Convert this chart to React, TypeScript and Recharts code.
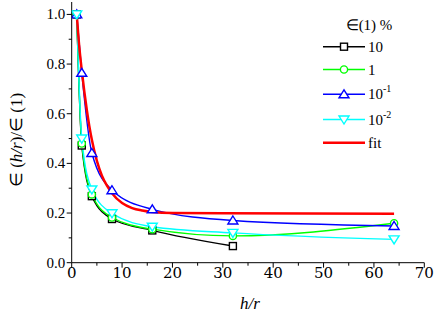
import React from 'react';
import { LineChart, Line, XAxis, YAxis, Legend } from 'recharts';

const hr = [1, 2, 4, 8, 16, 32, 64];
const s10 = [1.0, 0.472, 0.268, 0.176, 0.13, 0.067, null];
const s1 = [1.0, 0.48, 0.275, 0.182, 0.135, 0.108, 0.159];
const s01 = [1.0, 0.765, 0.442, 0.292, 0.215, 0.17, 0.148];
const s001 = [1.0, 0.5, 0.295, 0.199, 0.145, 0.12, 0.094];
const fitX = [1, 1.5, 2, 2.5, 3, 3.5, 4, 5, 6, 7, 8, 10, 12, 14, 16, 20, 30, 64];
const fitY = [1.0, 0.87, 0.775, 0.69, 0.615, 0.55, 0.495, 0.41, 0.35, 0.31, 0.28, 0.24, 0.22, 0.21, 0.204, 0.2, 0.199, 0.197];

const xTicks = [0, 5, 10, 15, 20, 25, 30, 35, 40, 45, 50, 55, 60, 65, 70];
const yTicks = [0, 0.1, 0.2, 0.3, 0.4, 0.5, 0.6, 0.7, 0.8, 0.9, 1.0];
const legendTitle = '\u2208(1) %';

const FONT = "'Liberation Serif'";
const FONT2 = "'DejaVu Serif'";

const mk = (xs: number[], ys: (number | null)[]) =>
  xs.map((x, i) => ({ x, y: ys[i] })).filter((d) => d.y !== null);

const d10 = mk(hr, s10);
const d1 = mk(hr, s1);
const d01 = mk(hr, s01);
const d001 = mk(hr, s001);
const dfit = mk(fitX, fitY);

const isMajorX = (v: number) => Math.round(v) % 10 === 0;
const isMajorY = (v: number) => Math.round(v * 10) % 2 === 0;

const txt = { fontFamily: FONT, fill: '#000' } as const;
const txt2 = { fontFamily: FONT2, fill: '#000' } as const;

const BottomTick = (p: any) => {
  const { x, y, payload } = p;
  const major = isMajorX(payload.value);
  return (
    <g>
      <line x1={x} x2={x} y1={y} y2={y + (major ? 5 : 3)} stroke="#000" strokeWidth={1} />
      {major && (
        <text x={x} y={y + 15.5} textAnchor="middle" fontSize={15} style={txt2}>
          {payload.value}
        </text>
      )}
    </g>
  );
};

const TopTick = (p: any) => {
  const { x, y, payload } = p;
  const major = isMajorX(payload.value);
  return <line x1={x} x2={x} y1={y} y2={y + (major ? 5 : 3)} stroke="#000" strokeWidth={1} />;
};

const LeftTick = (p: any) => {
  const { x, y, payload } = p;
  const major = isMajorY(payload.value);
  return (
    <g>
      <line x1={x} x2={x - (major ? 5 : 3)} y1={y} y2={y} stroke="#000" strokeWidth={1} />
      {major && (
        <text x={x - 6.5} y={y + 5} textAnchor="end" fontSize={15} style={txt}>
          {Number(payload.value).toFixed(1)}
        </text>
      )}
    </g>
  );
};

const RightTick = (p: any) => {
  const { x, y, payload } = p;
  const major = isMajorY(payload.value);
  return <line x1={x} x2={x - (major ? 5 : 3)} y1={y} y2={y} stroke="#000" strokeWidth={1} />;
};

type Shape = 'square' | 'circle' | 'up' | 'down';

const Marker = ({ cx, cy, shape, color }: { cx: number; cy: number; shape: Shape; color: string }) => {
  const sw = 1.4;
  if (shape === 'square')
    return <rect x={cx - 3.5} y={cy - 3.5} width={7} height={7} fill="#fff" stroke={color} strokeWidth={sw} />;
  if (shape === 'circle') return <circle cx={cx} cy={cy} r={3.6} fill="#fff" stroke={color} strokeWidth={sw} />;
  if (shape === 'up')
    return (
      <polygon
        points={`${cx},${cy - 4.5} ${cx - 5},${cy + 3.5} ${cx + 5},${cy + 3.5}`}
        fill="#fff"
        stroke={color}
        strokeWidth={sw}
      />
    );
  return (
    <polygon
      points={`${cx - 5},${cy - 3.5} ${cx + 5},${cy - 3.5} ${cx},${cy + 4.5}`}
      fill="#fff"
      stroke={color}
      strokeWidth={sw}
    />
  );
};

const makeDot = (shape: Shape, color: string) => (p: any) => {
  const { cx, cy, index } = p;
  if (cx == null || cy == null) return <g key={`n-${index}`} />;
  return (
    <g key={`d-${shape}-${index}`}>
      <Marker cx={cx} cy={cy} shape={shape} color={color} />
    </g>
  );
};

const series = [
  { name: '10', sup: '', color: '#000000', shape: 'square' as Shape },
  { name: '1', sup: '', color: '#00ff00', shape: 'circle' as Shape },
  { name: '10', sup: '-1', color: '#0000ff', shape: 'up' as Shape },
  { name: '10', sup: '-2', color: '#00ffff', shape: 'down' as Shape },
];

const rowY = [36.7, 59.5, 84.3, 109.5, 132.7];

const LegendBox = () => (
  <svg width={130} height={150} style={{ display: 'block' }}>
    <text x={69} y={20} textAnchor="middle" fontSize={15} style={txt}>
      {legendTitle}
    </text>
    {series.map((s, i) => (
      <g key={i}>
        <line x1={23} x2={65} y1={rowY[i]} y2={rowY[i]} stroke={s.color} strokeWidth={1.5} />
        <Marker cx={44} cy={rowY[i]} shape={s.shape} color={s.color} />
        <text x={68} y={rowY[i] + 5} fontSize={15} style={txt}>
          {s.name}
          {s.sup && (
            <tspan fontSize={10} dy={-7}>
              {s.sup}
            </tspan>
          )}
        </text>
      </g>
    ))}
    <line x1={23} x2={65} y1={rowY[4]} y2={rowY[4]} stroke="#ff0000" strokeWidth={2.5} />
    <text x={68} y={rowY[4] + 5} fontSize={15} style={txt}>
      fit
    </text>
  </svg>
);

const XLabel = () => (
  <text x={250} y={309} textAnchor="middle" fontSize={17} fontStyle="italic" style={txt}>
    h/r
  </text>
);

const YLabel = () => (
  <text x={22} y={140} transform="rotate(-90 22 140)" textAnchor="middle" fontSize={17} style={txt}>
    {'\u2208 ('}
    <tspan fontStyle="italic">h/r</tspan>
    {')/\u2208 (1)'}
  </text>
);

export default function App() {
  return (
    <div style={{ position: 'absolute', left: 0, top: 0, width: 436, height: 316, background: '#fff' }}>
      <LineChart width={436} height={316} margin={{ top: 2, right: 11.7, bottom: 0, left: 0 }}>
        <XAxis
          xAxisId="bottom"
          dataKey="x"
          type="number"
          domain={[0, 70]}
          ticks={xTicks}
          interval={0}
          allowDataOverflow
          height={53.3}
          tickSize={0}
          tickMargin={0}
          tick={BottomTick}
          axisLine={{ stroke: '#000', strokeWidth: 1 }}
          label={XLabel}
        />
        <XAxis
          xAxisId="top"
          orientation="top"
          dataKey="x"
          type="number"
          domain={[0, 70]}
          ticks={xTicks}
          interval={0}
          allowDataOverflow
          height={0}
          tickSize={0}
          tickMargin={0}
          tick={TopTick}
          axisLine={{ stroke: '#000', strokeWidth: 1 }}
        />
        <YAxis
          yAxisId="left"
          type="number"
          domain={[0, 1.05]}
          ticks={yTicks}
          interval={0}
          allowDataOverflow
          width={71.7}
          tickSize={0}
          tickMargin={0}
          tick={LeftTick}
          axisLine={{ stroke: '#000', strokeWidth: 1 }}
          label={YLabel}
        />
        <YAxis
          yAxisId="right"
          orientation="right"
          type="number"
          domain={[0, 1.05]}
          ticks={yTicks}
          interval={0}
          allowDataOverflow
          width={0}
          tickSize={0}
          tickMargin={0}
          tick={RightTick}
          axisLine={{ stroke: '#000', strokeWidth: 1 }}
        />
        <Legend
          layout="vertical"
          align="center"
          verticalAlign="middle"
          content={LegendBox}
          wrapperStyle={{ position: 'absolute', left: 300, top: 10, width: 130, height: 150 }}
        />
        <Line data={d10} dataKey="y" xAxisId="bottom" yAxisId="left" type="monotone" stroke="#000000" strokeWidth={1.4} dot={makeDot('square', '#000000')} isAnimationActive={false} />
        <Line data={d1} dataKey="y" xAxisId="bottom" yAxisId="left" type="monotone" stroke="#00ff00" strokeWidth={1.4} dot={makeDot('circle', '#00ff00')} isAnimationActive={false} />
        <Line data={d01} dataKey="y" xAxisId="bottom" yAxisId="left" type="monotone" stroke="#0000ff" strokeWidth={1.4} dot={makeDot('up', '#0000ff')} isAnimationActive={false} />
        <Line data={d001} dataKey="y" xAxisId="bottom" yAxisId="left" type="monotone" stroke="#00ffff" strokeWidth={1.4} dot={makeDot('down', '#00ffff')} isAnimationActive={false} />
        <Line data={dfit} dataKey="y" xAxisId="bottom" yAxisId="left" type="monotone" stroke="#ff0000" strokeWidth={2.5} dot={false} isAnimationActive={false} />
      </LineChart>
    </div>
  );
}
